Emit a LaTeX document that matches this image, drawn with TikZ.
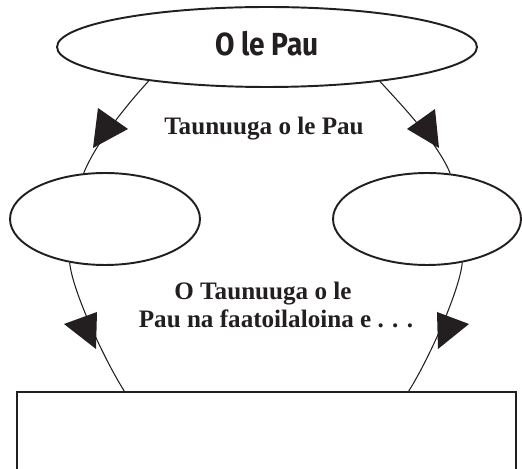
\documentclass[tikz,border=0pt]{standalone}
\usepackage{fontspec}
\usepackage{tikz}
\usetikzlibrary{positioning,calc,shapes.geometric}
\newfontfamily\paufont[FakeStretch=0.88]{Fira Sans}
\newfontfamily\capfont{Liberation Serif}
\definecolor{ink}{RGB}{35,31,32}

\begin{document}
\begin{tikzpicture}[x=0.02cm, y=-0.02cm, every node/.style={text=ink}]
  \tikzstyle{oval}=[draw=ink, ellipse, line width=1.1pt, inner sep=0pt]
  \tikzstyle{link}=[draw=ink, line width=0.6pt]
  \tikzstyle{caption}=[font=\capfont\bfseries\fontsize{14.3}{16}\selectfont, align=center]
  \useasboundingbox (0,0) rectangle (522,469);
  \clip (0,0) rectangle (522,469);
  % shapes
  \node[oval, minimum width=8.4cm, minimum height=1.6cm] (pau) at (267,47) {};
  \node[font=\paufont\bfseries\fontsize{18.2}{20}\selectfont, anchor=base] (pautxt) at (267,55.5) {O le Pau};
  \node[oval, minimum width=3.8cm, minimum height=1.84cm] (left) at (105,219) {};
  \node[oval, minimum width=3.76cm, minimum height=1.84cm] (right) at (427,219) {};
  \node[draw=ink, line width=1.1pt, minimum width=9.98cm, minimum height=3cm, anchor=north] (box) at (266.5,391) {};
  \coordinate (boxl) at ($(box.north west)!0.216!(box.north east)$);
  \coordinate (boxr) at ($(box.north west)!0.784!(box.north east)$);
  % captions
  \node[caption, anchor=base] (cap1) at (264,135) {Taunuuga o le Pau};
  \node[caption] (cap2) at (270,305) {O Taunuuga o le\hspace*{0.28cm}\\\hspace*{0.24cm}Pau na faatoilaloina e . . .};
  % connectors
  \draw[link] (pau.196.7) .. controls +(-22,24) and +(12,-30) .. (left.115.6);
  \draw[link] (pau.343) .. controls +(22,24) and +(-12,-30) .. (right.63.4);
  \draw[link] (left.231.7) .. controls +(3,30) and +(-18,-28) .. (boxl);
  \draw[link] (right.309.3) .. controls +(-3,30) and +(18,-28) .. (boxr);
  % arrowheads
  \fill[ink] (98,108) -- (128,129) -- (93,148) -- cycle;
  \fill[ink] (435,109) -- (407,129) -- (439,148) -- cycle;
  \fill[ink] (97,312) -- (64,324) -- (96,349) -- cycle;
  \fill[ink] (437,312) -- (469,324) -- (438,349) -- cycle;
\end{tikzpicture}
\end{document}
